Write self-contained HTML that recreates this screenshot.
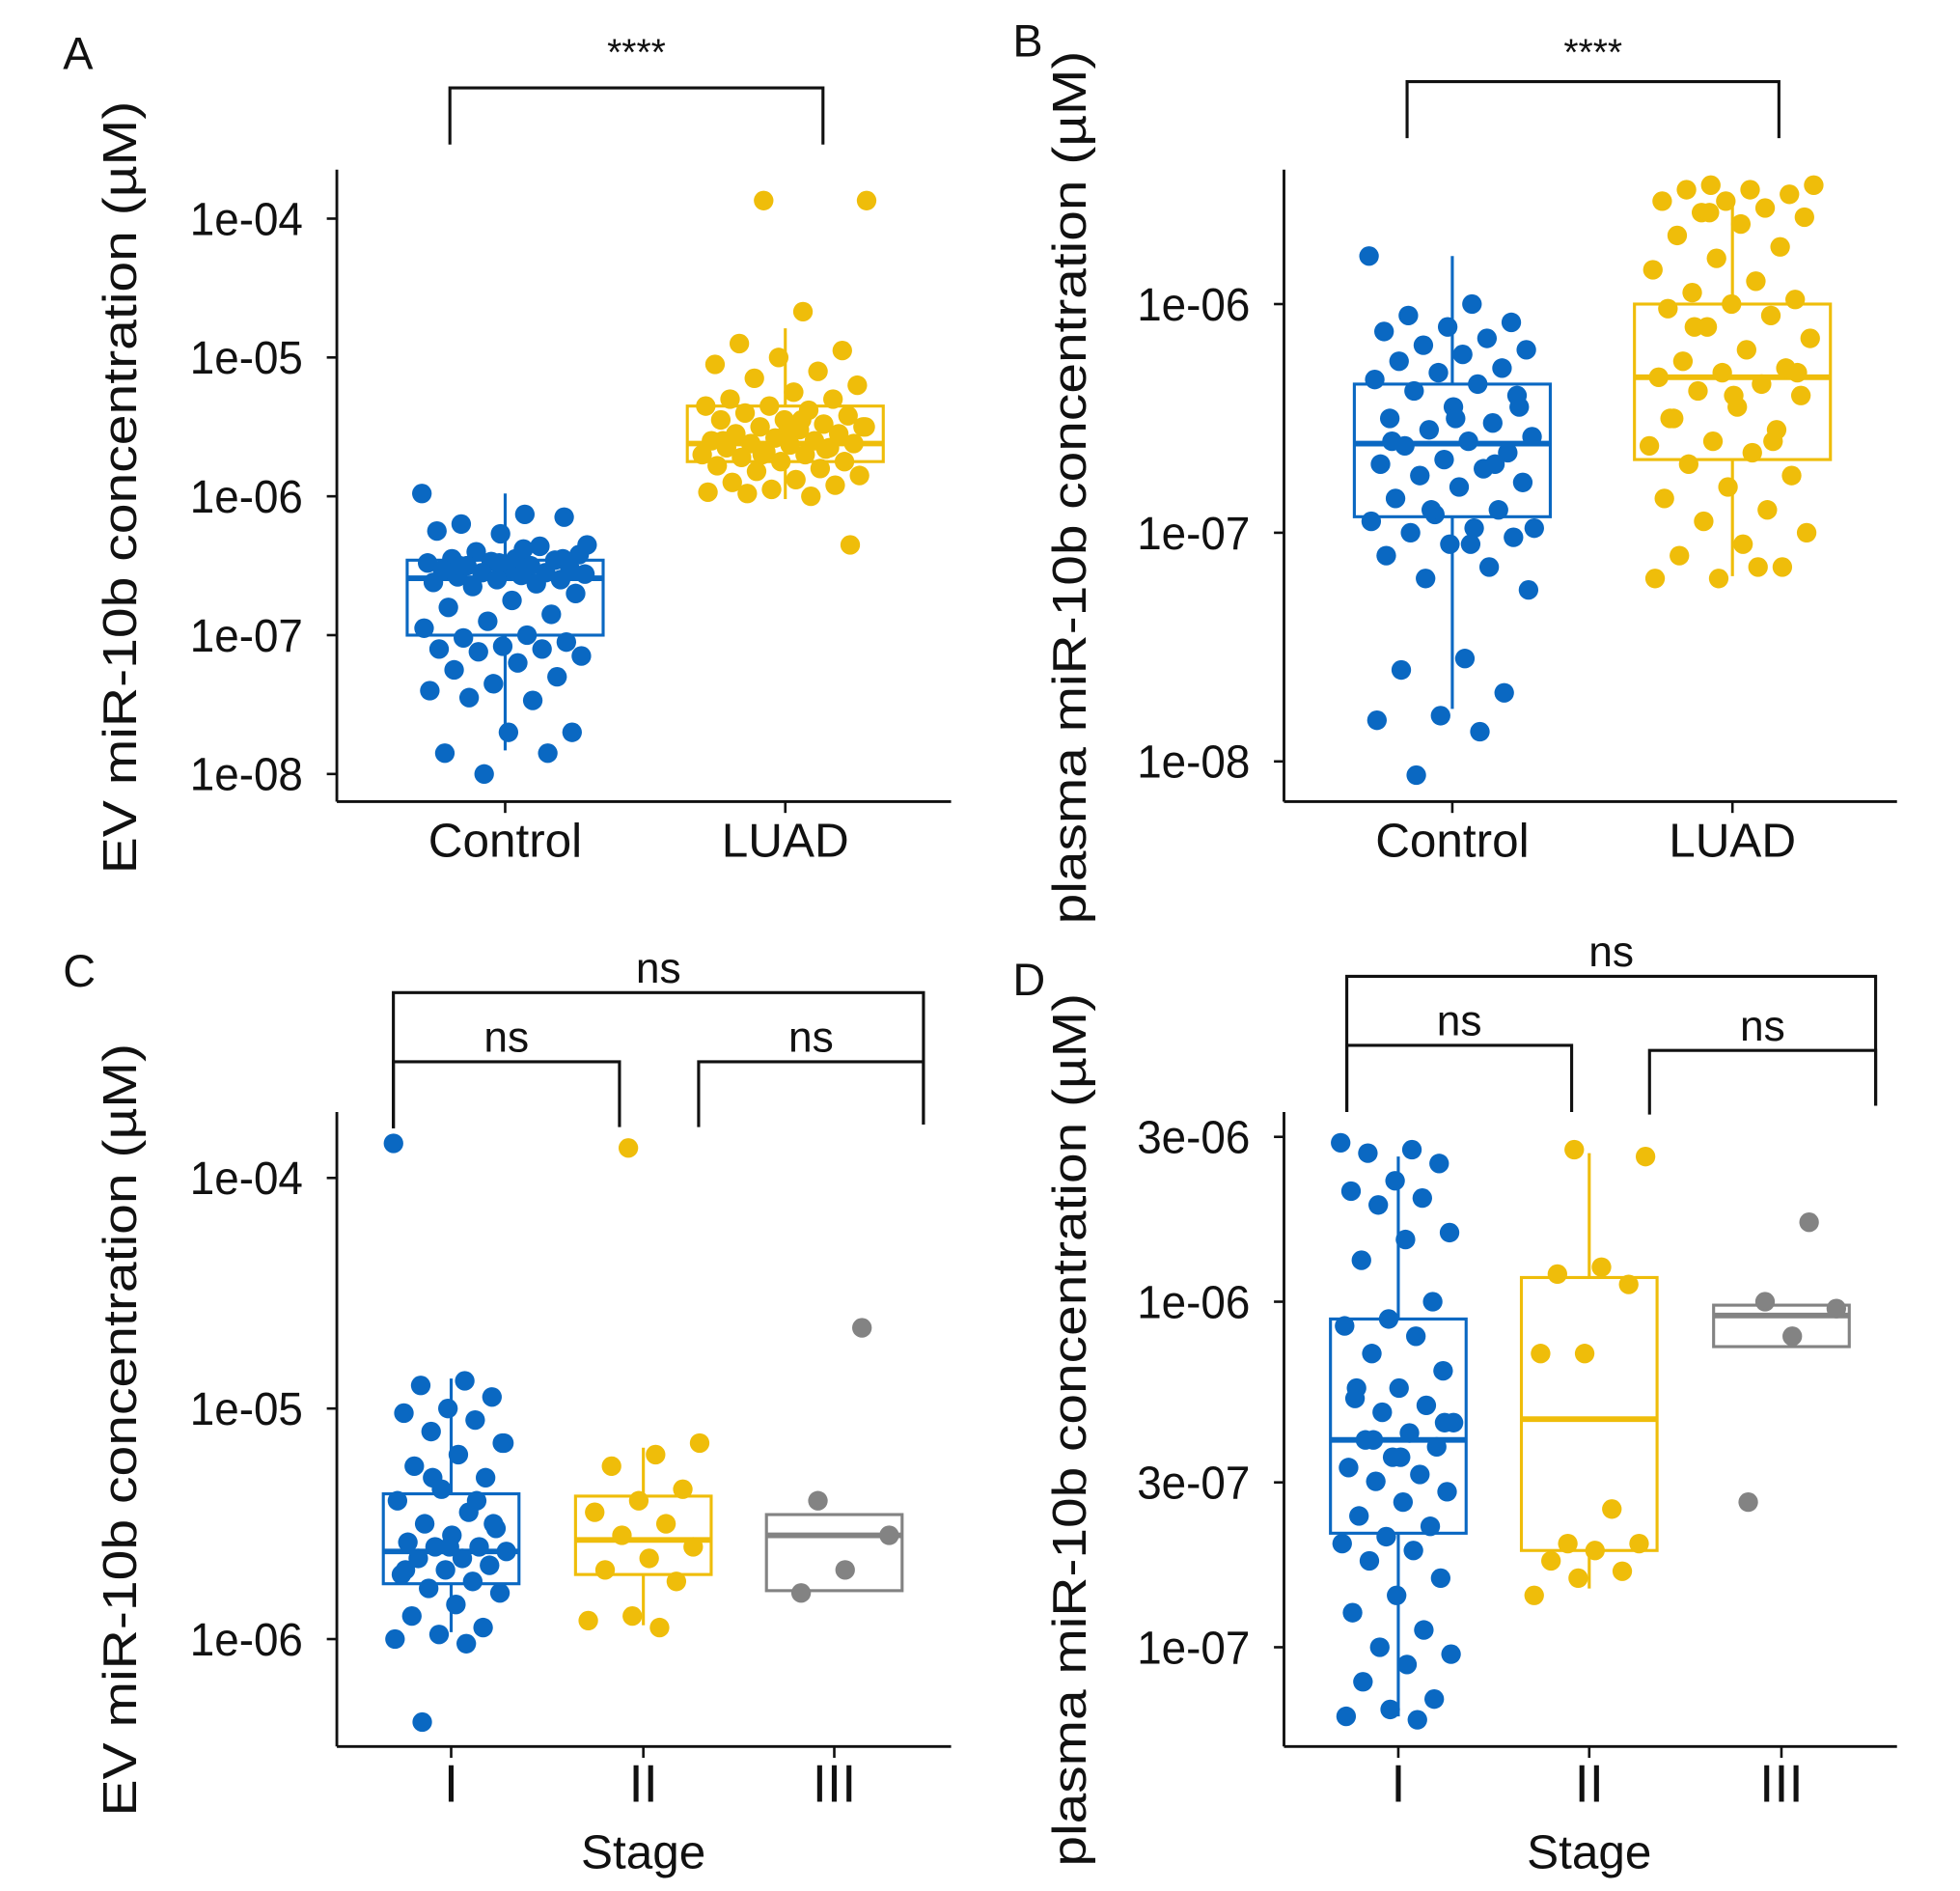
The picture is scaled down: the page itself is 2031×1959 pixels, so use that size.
<!DOCTYPE html>
<html><head><meta charset="utf-8"><style>
html,body{margin:0;padding:0;background:#fff;}
svg{display:block;}
text{font-family:"Liberation Sans",sans-serif;fill:#111;}
</style></head><body>
<svg id="fig" width="2031" height="1959" viewBox="0 0 1560 1505" xmlns="http://www.w3.org/2000/svg"></svg>
<script>
// ---- data (log10 of concentration, µM) ----
const catsAB = ["Control","LUAD"];
const catsCD = ["I","II","III"];
const aControl = [-5.98,-6.13,-6.2,-6.15,-6.27,-6.25,-6.36,-6.4,-6.42,-6.45,-6.45,-6.46,-6.47,-6.48,-6.5,-6.5,-6.52,-6.52,-6.53,-6.55,-6.55,-6.56,-6.57,-6.58,-6.6,-6.6,-6.62,-6.63,-6.65,-6.7,-6.75,-6.8,-6.85,-6.9,-6.95,-7.0,-7.02,-7.05,-7.08,-7.1,-7.1,-7.12,-7.15,-7.2,-7.25,-7.3,-7.35,-7.4,-7.47,-7.45,-7.7,-7.7,-7.85,-7.85,-8.0,-6.35,-6.38,-6.5,-6.45,-6.48];
const aLuad = [-3.87,-3.87,-4.67,-4.9,-4.95,-5.0,-5.05,-5.1,-5.15,-5.2,-5.25,-5.3,-5.3,-5.35,-5.35,-5.38,-5.4,-5.42,-5.45,-5.45,-5.48,-5.5,-5.5,-5.52,-5.55,-5.55,-5.58,-5.6,-5.6,-5.62,-5.62,-5.63,-5.65,-5.65,-5.68,-5.7,-5.7,-5.72,-5.75,-5.75,-5.78,-5.8,-5.82,-5.85,-5.88,-5.9,-5.92,-5.95,-5.97,-6.0,-5.98,-6.35,-5.55,-5.6,-5.66,-5.7,-5.5,-5.45];
const bControl = [-5.79,-6.0,-6.05,-6.08,-6.1,-6.12,-6.15,-6.18,-6.2,-6.22,-6.25,-6.28,-6.3,-6.33,-6.35,-6.38,-6.4,-6.45,-6.5,-6.52,-6.55,-6.58,-6.6,-6.62,-6.65,-6.68,-6.7,-6.72,-6.75,-6.78,-6.8,-6.85,-6.9,-6.92,-6.95,-6.98,-7.0,-7.02,-7.05,-7.1,-7.15,-7.2,-7.25,-7.55,-7.6,-7.7,-7.8,-7.82,-7.87,-8.06,-6.45,-6.5,-6.6,-6.7,-6.9,-6.98,-7.05];
const bLuad = [-5.48,-5.48,-5.5,-5.5,-5.52,-5.55,-5.55,-5.58,-5.6,-5.62,-5.65,-5.7,-5.75,-5.8,-5.85,-5.9,-5.95,-5.98,-6.0,-6.02,-6.05,-6.1,-6.15,-6.2,-6.25,-6.28,-6.3,-6.32,-6.35,-6.38,-6.4,-6.45,-6.5,-6.55,-6.6,-6.62,-6.65,-6.7,-6.75,-6.8,-6.85,-6.9,-6.95,-7.0,-7.05,-7.1,-7.15,-7.2,-7.2,-7.15,-6.1,-6.3,-6.4,-6.5,-6.6,-5.6];
const cI = [-3.85,-4.88,-4.9,-4.95,-5.0,-5.02,-5.05,-5.1,-5.15,-5.2,-5.25,-5.3,-5.35,-5.4,-5.45,-5.5,-5.52,-5.55,-5.58,-5.6,-5.6,-5.62,-5.65,-5.65,-5.68,-5.7,-5.72,-5.75,-5.78,-5.8,-5.85,-5.9,-5.95,-5.98,-6.0,-6.02,-6.36,-5.5,-5.6,-5.7,-5.4,-5.3,-5.15];
const cII = [-3.87,-5.15,-5.2,-5.25,-5.35,-5.4,-5.45,-5.5,-5.55,-5.6,-5.65,-5.7,-5.75,-5.9,-5.92,-5.95];
const cIII = [-4.65,-5.4,-5.55,-5.7,-5.8];
const dI = [-5.54,-5.56,-5.57,-5.6,-5.65,-5.68,-5.7,-5.72,-5.8,-5.82,-5.88,-6.0,-6.05,-6.07,-6.1,-6.15,-6.2,-6.25,-6.28,-6.3,-6.32,-6.35,-6.38,-6.4,-6.42,-6.45,-6.48,-6.5,-6.52,-6.55,-6.58,-6.62,-6.65,-6.68,-6.7,-6.72,-6.75,-6.8,-6.85,-6.9,-6.95,-7.0,-7.02,-7.05,-7.1,-7.15,-7.18,-7.2,-7.21,-6.4,-6.35,-6.45,-6.25];
const dII = [-5.56,-5.58,-5.9,-5.92,-5.95,-6.15,-6.15,-6.6,-6.7,-6.7,-6.72,-6.75,-6.78,-6.8,-6.85];
const dIII = [-5.77,-6.0,-6.02,-6.1,-6.58];
// box stats: [whiskerLow, q1, median, q3, whiskerHigh]
const aBoxes = [[-7.83,-7.0,-6.59,-6.46,-5.98],[-6.02,-5.75,-5.62,-5.35,-4.79]];
const bBoxes = [[-7.77,-6.93,-6.61,-6.35,-5.79],[-7.19,-6.68,-6.32,-6.0,-5.54]];
const cBoxes = [[-5.97,-5.76,-5.62,-5.37,-4.87],[-5.94,-5.72,-5.57,-5.38,-5.17],[-5.79,-5.79,-5.55,-5.46,-5.46]];
const dBoxes = [[-7.2,-6.67,-6.4,-6.05,-5.58],[-6.83,-6.72,-6.34,-5.93,-5.57],[-6.13,-6.13,-6.04,-6.01,-6.01]];
const ticksA = [-4,-5,-6,-7,-8], tickLabA = ["1e-04","1e-05","1e-06","1e-07","1e-08"];
const ticksB = [-6,-7,-8], tickLabB = ["1e-06","1e-07","1e-08"];
const ticksC = [-4,-5,-6], tickLabC = ["1e-04","1e-05","1e-06"];
const ticksD = [Math.log10(3e-6),-6,Math.log10(3e-7),-7], tickLabD = ["3e-06","1e-06","3e-07","1e-07"];

const NS="http://www.w3.org/2000/svg";
const svg=document.getElementById('fig');
function el(tag,attrs,parent,txt){const e=document.createElementNS(NS,tag);for(const k in attrs)e.setAttribute(k,attrs[k]);if(txt!==undefined)e.textContent=txt;(parent||svg).appendChild(e);return e;}
const COLORS=["#0a68c2","#efbd0a","#838383"];

function panel(p){
  const g=el('g',{});
  
  
  const y=v=>p.y0+(p.v0-v)*p.ppd;
  const xOf=i=>p.cx[i];
  const ya=el('line',{x1:p.ax,y1:p.top,x2:p.ax,y2:p.bottom,stroke:'#111','stroke-width':2.2},g);
  
  const xa=el('line',{x1:p.ax,y1:p.bottom,x2:p.right,y2:p.bottom,stroke:'#111','stroke-width':2.2},g);
  
  p.ticks.forEach((t,i)=>{
    el('line',{x1:p.ax-8,y1:y(t),x2:p.ax,y2:y(t),stroke:'#111','stroke-width':2},g);
    const tl=el('text',{x:p.ax-27,y:y(t)+13,'text-anchor':'end','font-size':37,textLength:90,lengthAdjust:'spacingAndGlyphs'},g,p.tickLab[i]);
    
  });
  p.cats.forEach((c,i)=>{
    el('line',{x1:xOf(i),y1:p.bottom,x2:xOf(i),y2:p.bottom+9,stroke:'#111','stroke-width':2},g);
    const tl=el('text',{x:xOf(i),y:p.bottom+44,'text-anchor':'middle','font-size':p.catFont},g,c);
    
  });
  const yt=el('text',{transform:`translate(${p.tx},${p.tcy}) rotate(-90)`,'text-anchor':'middle','font-size':38,textLength:p.tlen,lengthAdjust:'spacingAndGlyphs'},g,p.title);
  
  if(p.xtitle){const xt=el('text',{x:p.cx[1],y:p.bottom+97,'text-anchor':'middle','font-size':38},g,p.xtitle);
    }
  const lt=el('text',{x:p.lx,y:p.ly,'font-size':36},g,p.id);
  
  p.boxes.forEach((b,i)=>{
    const hw=p.hw, cx=xOf(i), col=COLORS[i];
    const bg=el('g',{fill:'none',stroke:col,'stroke-width':2.4},g);
    
    el('line',{x1:cx,y1:y(b[0]),x2:cx,y2:y(b[1])},bg);
    el('line',{x1:cx,y1:y(b[3]),x2:cx,y2:y(b[4])},bg);
    el('rect',{x:cx-hw,y:y(b[3]),width:2*hw,height:y(b[1])-y(b[3])},bg);
    el('line',{x1:cx-hw,y1:y(b[2]),x2:cx+hw,y2:y(b[2]),'stroke-width':4.5},bg);
  });
  p.series.forEach((s,i)=>{
    const pg=el('g',{fill:COLORS[i]},g);
    
    s.forEach((v,k)=>{
      const j=(((k*0.6180339+i*0.37)%1)-0.5)*2*p.hw*0.85;
      const c=el('circle',{cx:xOf(i)+j,cy:y(v),r:7.8},pg);
      
    });
  });
  p.brackets.forEach(br=>{
    const bgp=el('g',{},g);
    
    el('polyline',{points:`${br[0]},${br[3]} ${br[0]},${br[2]} ${br[1]},${br[2]} ${br[1]},${br[4]}`,fill:'none',stroke:'#111','stroke-width':2.4},bgp);
    el('text',{x:(br[0]+br[1])/2,y:br[2]-br[6],'text-anchor':'middle','font-size':br[5]=='****'?30:34},bgp,br[5]);
  });
}
panel({id:'A',cats:catsAB,cx:[402,625],hw:78,ax:268,top:135,bottom:638,right:757,y0:174,v0:-4,ppd:110.5,
  ticks:ticksA,tickLab:tickLabA,series:[aControl,aLuad],boxes:aBoxes,catFont:38,
  title:'EV miR-10b concentration (µM)',tx:108,tcy:388,tlen:615,lx:50,ly:55,
  brackets:[[358,655,70,115,115,'****',18]]});
panel({id:'B',cats:catsAB,cx:[1156,1379],hw:78,ax:1022,top:135,bottom:638,right:1510,y0:242,v0:-6,ppd:182,
  ticks:ticksB,tickLab:tickLabB,series:[bControl,bLuad],boxes:bBoxes,catFont:38,
  title:'plasma miR-10b concentration (µM)',tx:864,tcy:388,tlen:695,lx:806,ly:45,
  brackets:[[1120,1416,65,110,110,'****',13]]});
panel({id:'C',cats:catsCD,cx:[359,512,664],hw:54,ax:268,top:885,bottom:1390,right:757,y0:1121,v0:-5,ppd:183.5,
  ticks:ticksC,tickLab:tickLabC,series:[cI,cII,cIII],boxes:cBoxes,catFont:42,xtitle:'Stage',
  title:'EV miR-10b concentration (µM)',tx:108,tcy:1138,tlen:615,lx:50,ly:785,
  brackets:[[313,735,790,898,895,'ns',8],[313,493,845,898,897,'ns',8],[556,735,845,897,895,'ns',8]]});
panel({id:'D',cats:catsCD,cx:[1113,1265,1418],hw:54,ax:1022,top:885,bottom:1390,right:1510,y0:1036,v0:-6,ppd:275,
  ticks:ticksD,tickLab:tickLabD,series:[dI,dII,dIII],boxes:dBoxes,catFont:42,xtitle:'Stage',
  title:'plasma miR-10b concentration (µM)',tx:864,tcy:1138,tlen:695,lx:806,ly:792,
  brackets:[[1072,1493,777,885,880,'ns',8],[1072,1251,832,885,885,'ns',8],[1313,1493,836,887,880,'ns',8]]});
</script>
</body></html>
